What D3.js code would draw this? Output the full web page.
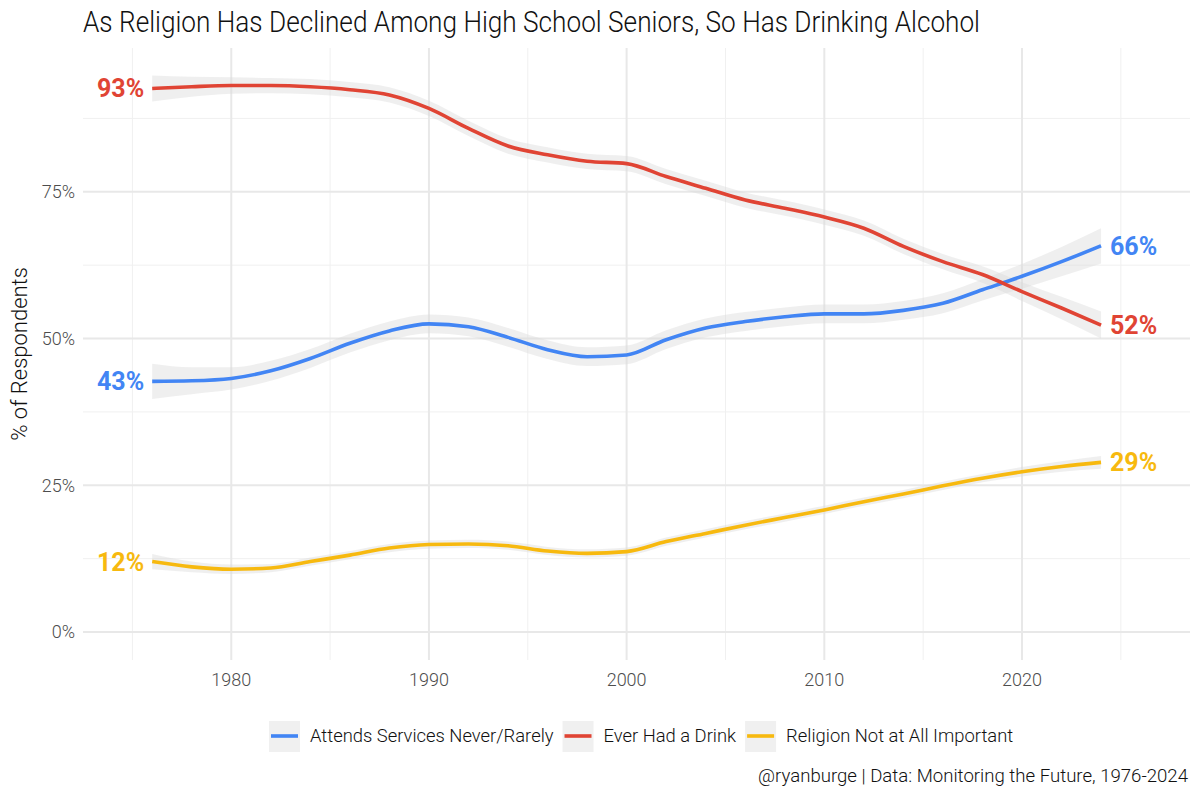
<!DOCTYPE html>
<html>
<head>
    <meta charset="utf-8">
    <title>Religion and drinking</title>
    <script src="https://cdn.jsdelivr.net/npm/d3@7"></script>
    <style>
        body {
            margin: 0;
            padding: 0;
            background-color: white;
        }

        .title {
            font-family: Roboto, "Noto Sans", sans-serif;
            font-weight: 300;
            font-size: 30px;
            fill: #111;
        }

        .tick-label {
            font-family: Roboto, "Noto Sans", sans-serif;
            font-weight: 300;
            font-size: 18px;
            fill: #4d4d4d;
        }

        .axis-title {
            font-family: Roboto, "Noto Sans", sans-serif;
            font-weight: 300;
            font-size: 22px;
            fill: #111;
        }

        .legend-label {
            font-family: Roboto, "Noto Sans", sans-serif;
            font-weight: 300;
            font-size: 18.4px;
            fill: #111;
        }

        .caption {
            font-family: Roboto, "Noto Sans", sans-serif;
            font-weight: 300;
            font-size: 18.6px;
            fill: #111;
        }

        .end-label {
            font-family: Roboto, "Noto Sans", sans-serif;
            font-weight: bold;
            font-size: 25px;
        }
    </style>
</head>
<body>
    <div id="chart"></div>

    <script>
        // years of the smoothed curves
        const years = [1976, 1978, 1980, 1982, 1984, 1986, 1988, 1990, 1992, 1994, 1996, 1998, 2000,
                       2002, 2004, 2006, 2008, 2010, 2012, 2014, 2016, 2018, 2020, 2022, 2024];

        const seriesNames = ["Attends Services Never/Rarely", "Ever Had a Drink", "Religion Not at All Important"];
        const seriesColors = ["#4285F4", "#E04434", "#F7B90F"];

        // values (percent)
        const attendsNever = [42.7, 42.8, 43.2, 44.5, 46.6, 49.2, 51.3, 52.5, 52.0, 50.2, 48.1, 46.9, 47.2,
                              49.8, 51.8, 52.9, 53.7, 54.2, 54.2, 54.8, 56.0, 58.3, 60.6, 63.1, 65.8];
        const everDrink = [92.6, 92.9, 93.1, 93.1, 92.9, 92.4, 91.5, 89.2, 85.8, 82.8, 81.3, 80.2, 79.8,
                           77.6, 75.6, 73.6, 72.2, 70.7, 68.8, 65.7, 63.1, 60.9, 58.0, 55.2, 52.3];
        const notImportant = [12.0, 11.1, 10.7, 10.9, 12.0, 13.1, 14.3, 14.9, 15.0, 14.7, 13.8, 13.4, 13.7,
                              15.4, 16.8, 18.2, 19.5, 20.8, 22.2, 23.5, 24.9, 26.2, 27.3, 28.2, 28.9];

        // half widths of the grey bands (percent)
        const attendsSe = [3.0, 2.3, 1.9, 1.7, 1.6, 1.6, 1.6, 1.6, 1.6, 1.6, 1.6, 1.6, 1.6,
                           1.6, 1.6, 1.6, 1.6, 1.6, 1.6, 1.6, 1.7, 1.8, 2.1, 2.5, 3.0];
        const drinkSe = [2.2, 1.7, 1.4, 1.3, 1.3, 1.3, 1.3, 1.3, 1.3, 1.3, 1.3, 1.3, 1.3,
                         1.3, 1.3, 1.3, 1.3, 1.3, 1.3, 1.3, 1.3, 1.4, 1.6, 1.9, 2.3];
        const importantSe = [1.3, 0.9, 0.8, 0.7, 0.7, 0.7, 0.7, 0.7, 0.7, 0.7, 0.7, 0.7, 0.7,
                             0.7, 0.7, 0.7, 0.7, 0.7, 0.7, 0.7, 0.7, 0.7, 0.8, 0.9, 1.1];

        const yTicks = [0, 25, 50, 75];
        const yMinor = [12.5, 37.5, 62.5, 87.5];
        const xTicks = [1980, 1990, 2000, 2010, 2020];
        const xMinor = [1975, 1985, 1995, 2005, 2015, 2025];

        const series = [
            { name: seriesNames[0], color: seriesColors[0], values: attendsNever, se: attendsSe },
            { name: seriesNames[1], color: seriesColors[1], values: everDrink, se: drinkSe },
            { name: seriesNames[2], color: seriesColors[2], values: notImportant, se: importantSe }
        ];

        const W = 1200, H = 800;
        const panel = { left: 83, right: 1190, top: 48, bottom: 660 };

        const svg = d3.select("#chart")
            .append("svg")
            .attr("width", W)
            .attr("height", H);

        const x = d3.scaleLinear()
            .domain([1972.5, 2028.5])
            .range([panel.left, panel.right]);

        const y = d3.scaleLinear()
            .domain([-4.77, 99.5])
            .range([panel.bottom, panel.top]);

        // grid
        const grid = svg.append("g");
        grid.selectAll(".ymin").data(yMinor).enter().append("line")
            .attr("x1", panel.left).attr("x2", panel.right)
            .attr("y1", d => y(d)).attr("y2", d => y(d))
            .style("stroke", "#f0f0f0").style("stroke-width", 1);
        grid.selectAll(".xmin").data(xMinor).enter().append("line")
            .attr("y1", panel.top).attr("y2", panel.bottom)
            .attr("x1", d => x(d)).attr("x2", d => x(d))
            .style("stroke", "#f0f0f0").style("stroke-width", 1);
        grid.selectAll(".ymaj").data(yTicks).enter().append("line")
            .attr("x1", panel.left).attr("x2", panel.right)
            .attr("y1", d => y(d)).attr("y2", d => y(d))
            .style("stroke", "#e8e8e8").style("stroke-width", 2);
        grid.selectAll(".xmaj").data(xTicks).enter().append("line")
            .attr("y1", panel.top).attr("y2", panel.bottom)
            .attr("x1", d => x(d)).attr("x2", d => x(d))
            .style("stroke", "#e8e8e8").style("stroke-width", 2);

        // axis labels
        svg.selectAll(".ylab").data(yTicks).enter().append("text")
            .attr("class", "tick-label")
            .attr("x", 75)
            .attr("y", d => y(d))
            .attr("dy", "0.35em")
            .style("text-anchor", "end")
            .text(d => d + "%");

        svg.selectAll(".xlab").data(xTicks).enter().append("text")
            .attr("class", "tick-label")
            .attr("x", d => x(d))
            .attr("y", 686)
            .style("text-anchor", "middle")
            .text(d => d);

        svg.append("text")
            .attr("class", "axis-title")
            .attr("transform", `translate(27, ${(panel.top + panel.bottom) / 2}) rotate(-90)`)
            .style("text-anchor", "middle")
            .text("% of Respondents");

        svg.append("text")
            .attr("class", "title")
            .attr("x", 83)
            .attr("y", 32)
            .attr("textLength", 897)
            .attr("lengthAdjust", "spacingAndGlyphs")
            .text("As Religion Has Declined Among High School Seniors, So Has Drinking Alcohol");

        // bands
        const band = d3.area()
            .x((d, i) => x(years[i]))
            .y0(d => y(d.lo))
            .y1(d => y(d.hi))
            .curve(d3.curveMonotoneX);

        svg.append("g").selectAll("path").data(series).enter().append("path")
            .attr("d", s => band(s.values.map((v, i) => ({ lo: v - s.se[i], hi: v + s.se[i] }))))
            .style("fill", "#d9d9d9")
            .style("opacity", 0.42);

        // lines
        const line = d3.line()
            .x((d, i) => x(years[i]))
            .y(d => y(d))
            .curve(d3.curveMonotoneX);

        svg.append("g").selectAll("path").data(series).enter().append("path")
            .attr("d", s => line(s.values))
            .style("fill", "none")
            .style("stroke", s => s.color)
            .style("stroke-width", 3.6);

        // end labels
        series.forEach(s => {
            const first = s.values[0];
            const last = s.values[s.values.length - 1];
            svg.append("text")
                .attr("class", "end-label")
                .attr("x", x(years[0]) - 8)
                .attr("y", y(first))
                .attr("dy", "0.36em")
                .style("text-anchor", "end")
                .style("fill", s.color)
                .text(Math.round(first) + "%");
            svg.append("text")
                .attr("class", "end-label")
                .attr("x", x(years[years.length - 1]) + 9)
                .attr("y", y(last))
                .attr("dy", "0.36em")
                .style("text-anchor", "start")
                .style("fill", s.color)
                .text(Math.round(last) + "%");
        });

        // legend
        const legend = svg.append("g").attr("transform", "translate(0, 736)");
        let lx = 269;
        series.forEach(s => {
            const g = legend.append("g").attr("transform", `translate(${lx}, 0)`);
            g.append("rect")
                .attr("x", 0).attr("y", -15)
                .attr("width", 31).attr("height", 31)
                .style("fill", "#f0f0f0");
            g.append("line")
                .attr("x1", 2).attr("x2", 29)
                .attr("y1", 0).attr("y2", 0)
                .style("stroke", s.color)
                .style("stroke-width", 3.6);
            const t = g.append("text")
                .attr("class", "legend-label")
                .attr("x", 41)
                .attr("y", 0)
                .attr("dy", "0.35em")
                .text(s.name);
            lx += 41 + t.node().getComputedTextLength() + 9;
        });

        svg.append("text")
            .attr("class", "caption")
            .attr("x", 1188)
            .attr("y", 782)
            .style("text-anchor", "end")
            .text("@ryanburge | Data: Monitoring the Future, 1976-2024");
    </script>
</body>
</html>
